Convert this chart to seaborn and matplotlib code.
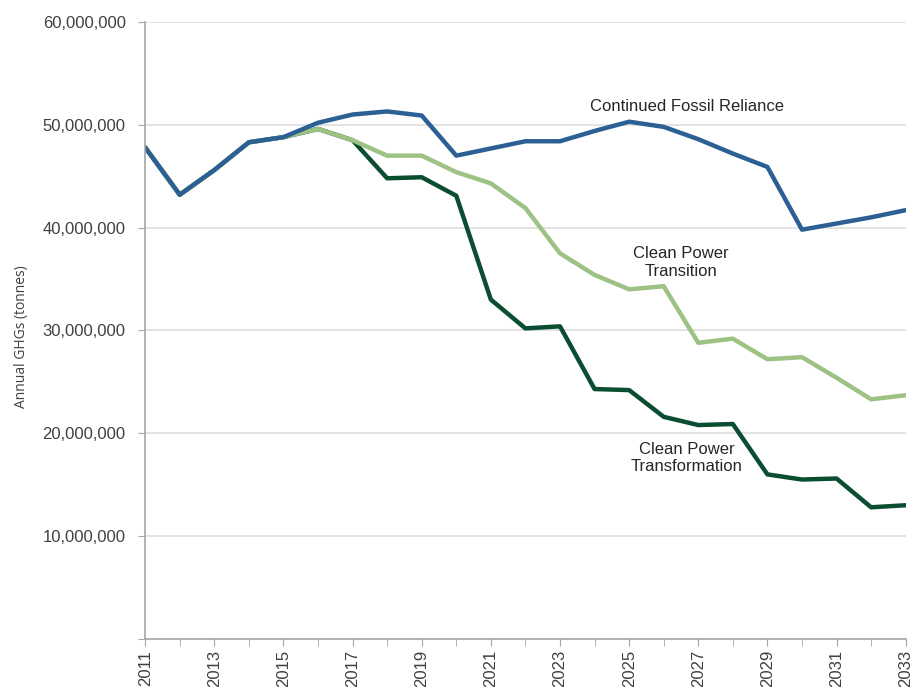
"""
Annual GHG emissions under three power scenarios, 2011-2033.
"""
import numpy as np
import pandas as pd
import matplotlib
matplotlib.use("Agg")
import matplotlib.pyplot as plt
import seaborn as sns
from matplotlib.ticker import FuncFormatter, MultipleLocator

years = list(range(2011, 2034))

# valores (millones de toneladas)
fossil = [47.8, 43.2, 45.6, 48.3, 48.8, 50.2, 51.0, 51.3, 50.9, 47.0, 47.7, 48.4,
          48.4, 49.4, 50.3, 49.8, 48.6, 47.2, 45.9, 39.8, 40.4, 41.0, 41.7]
transition = [47.8, 43.2, 45.6, 48.3, 48.8, 49.6, 48.5, 47.0, 47.0, 45.4, 44.3, 41.9,
              37.5, 35.4, 34.0, 34.3, 28.8, 29.2, 27.2, 27.4, 25.4, 23.3, 23.7]
transformation = [47.8, 43.2, 45.6, 48.3, 48.8, 49.6, 48.5, 44.8, 44.9, 43.1, 33.0, 30.2,
                  30.4, 24.3, 24.2, 21.6, 20.8, 20.9, 16.0, 15.5, 15.6, 12.8, 13.0]

series_names = ["Clean Power Transformation", "Clean Power Transition", "Continued Fossil Reliance"]
series_values = [transformation, transition, fossil]
colors = {"Clean Power Transformation": "#0A4D31",
          "Clean Power Transition": "#9DC283",
          "Continued Fossil Reliance": "#2C6094"}

df = pd.concat([
    pd.DataFrame({"year": years, "ghg": np.array(v) * 1e6, "scenario": n})
    for n, v in zip(series_names, series_values)
])

sns.set_style("white")
plt.rcParams["font.family"] = ["Liberation Sans", "DejaVu Sans"]

fig = plt.figure(figsize=(9.13, 6.87), dpi=100)
ax = fig.add_axes([0.159, 0.070, 0.833, 0.898])

sns.lineplot(data=df, x="year", y="ghg", hue="scenario", hue_order=series_names,
             palette=colors, linewidth=3.2, legend=False, ax=ax)

ax.set_xlim(2011, 2033)
ax.set_ylim(0, 60e6)
ax.xaxis.set_minor_locator(MultipleLocator(1))
ax.yaxis.set_major_locator(MultipleLocator(10e6))
ax.yaxis.set_major_formatter(FuncFormatter(lambda v, p: "" if v == 0 else f"{int(v):,}"))
ax.set_xticks(range(2011, 2034, 2))
ax.set_xticklabels([str(y) for y in range(2011, 2034, 2)], rotation=90)

ax.grid(axis="y", color="#dedede", linewidth=1.2)
ax.set_axisbelow(True)
for side in ["top", "right"]:
    ax.spines[side].set_visible(False)
for side in ["left", "bottom"]:
    ax.spines[side].set_color("#a6a6a6")
    ax.spines[side].set_linewidth(1.2)

ax.tick_params(axis="both", which="both", direction="out", color="#a6a6a6",
               labelcolor="#404040", labelsize=12)
ax.tick_params(axis="x", which="both", length=5, bottom=True, pad=3)
ax.tick_params(axis="y", length=5, left=True, pad=9)

ax.set_xlabel("")
ax.set_ylabel("Annual GHGs (tonnes)", fontsize=10, color="#404040",
              family=["Open Sans", "DejaVu Sans"])
ax.yaxis.set_label_coords(-0.153, 0.49)

ax.text(2026.66, 51.8e6, "Continued Fossil Reliance", ha="center", va="center", fontsize=12)
ax.text(2026.5, 36.6e6, "Clean Power\nTransition", ha="center", va="center", fontsize=12)
ax.text(2026.66, 17.6e6, "Clean Power\nTransformation", ha="center", va="center", fontsize=12)

fig.savefig("out.png", dpi=100)
plt.close()
